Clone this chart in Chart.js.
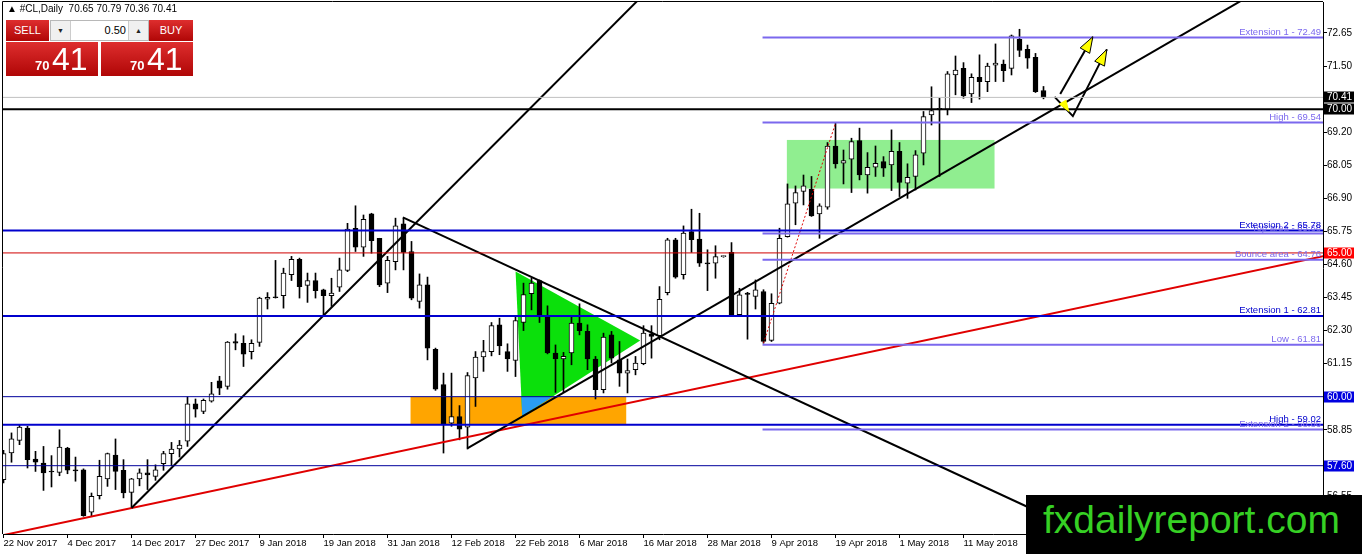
<!DOCTYPE html>
<html>
<head>
<meta charset="utf-8">
<script src="https://cdn.jsdelivr.net/npm/chart.js@4.4.1/dist/chart.umd.min.js"></script>
<style>
  body { margin: 0; background: #fff; font-family: 'Liberation Sans', Arial, sans-serif; }
  #wrap { position: relative; width: 1362px; height: 554px; overflow: hidden; }
  canvas { position: absolute; left: 0; top: 0; }
  #hdr { position: absolute; left: 7px; top: 3px; font-size: 10px; line-height: 12px; color: #000; white-space: pre; }
  .red { position: absolute; background: linear-gradient(#de2e2e, #b00606); color: #fff; }
  .btn { font-size: 11px; text-align: center; line-height: 21px; }
  #sell { left: 6px; top: 20px; width: 43px; height: 21px; }
  #buy { left: 149px; top: 20px; width: 44px; height: 21px; }
  #spin { position: absolute; left: 50px; top: 20px; width: 97px; height: 19px; border: 1px solid #b8b8b8; background: #fff; font-size: 11px; }
  #spin .b { position: absolute; top: 0; width: 19px; height: 19px; background: #f0f0f0; font-size: 7px; line-height: 19px; text-align: center; color: #222; }
  #spin .v { position: absolute; left: 20px; width: 55px; text-align: right; line-height: 19px; }
  .big { top: 42px; width: 92px; height: 34px; }
  #bigL { left: 6px; }
  #bigR { left: 101px; }
  .sm { position: absolute; left: 29px; top: 17px; font-size: 13px; line-height: 13px; font-weight: bold; }
  .lg { position: absolute; left: 46px; top: 1px; font-size: 32px; line-height: 32px; }
  #wm { position: absolute; left: 1026px; top: 495px; width: 336px; height: 59px; background: #000; color: #36d024;
        font-size: 39px; line-height: 39px; padding: 5px 0 0 17px; box-sizing: border-box; white-space: nowrap; }
</style>
</head>
<body>
<div id="wrap">
  <canvas id="c" width="1362" height="554"></canvas>
  <div id="hdr">▲ #CL,Daily  70.65 70.79 70.36 70.41</div>
  <div id="sell" class="red btn">SELL</div>
  <div id="spin"><div class="b" style="left:0;border-right:1px solid #ccc">▼</div><div class="v">0.50</div><div class="b" style="left:77px;border-left:1px solid #ccc">▲</div></div>
  <div id="buy" class="red btn">BUY</div>
  <div id="bigL" class="red big"><span class="sm">70</span><span class="lg">41</span></div>
  <div id="bigR" class="red big"><span class="sm">70</span><span class="lg">41</span></div>
  <div id="wm">fxdailyreport.com</div>
</div>
<script>
// daily bars, 22 Nov 2017 .. 25 May 2018 (one per trading day)
const opens = [
  57.11,58.04,58.48,58.91,57.83,57.69,57.40,57.37,58.21,57.44,57.46,55.98,56.56,57.14,57.97,57.44,
  56.67,57.14,57.35,57.23,57.67,58.02,58.18,58.45,59.75,59.49,59.84,60.55,60.36,61.92,61.86,61.57,
  61.89,63.39,63.46,63.51,64.24,64.78,63.87,64.04,63.72,63.51,63.81,64.39,65.86,65.20,66.36,65.51,
  63.95,64.70,66.01,65.05,63.31,63.89,61.65,60.42,59.08,59.31,58.94,60.65,61.38,61.57,62.50,61.57,
  61.26,62.58,63.58,64.04,62.79,61.52,61.31,61.52,62.56,62.27,61.31,60.24,62.15,61.28,60.82,60.94,
  61.15,62.19,62.12,63.62,65.46,64.24,65.74,65.48,64.64,64.64,64.87,65.02,62.85,63.60,63.49,63.66,
  61.96,63.25,65.57,66.73,67.14,67.22,66.36,66.59,68.72,68.12,68.26,68.91,67.71,67.98,68.18,68.06,
  68.53,67.43,67.66,68.47,69.80,69.97,69.99,71.19,71.42,70.53,71.11,70.96,71.53,71.57,71.42,72.43,
  72.08,71.80,70.65
];
const highs = [
  58.13,58.74,59.03,58.97,58.10,58.27,57.95,58.85,58.24,57.90,57.49,56.65,57.79,58.04,58.53,57.81,
  57.16,57.49,57.81,57.63,58.10,58.41,58.48,59.99,59.92,59.92,60.50,60.71,61.92,62.19,62.12,61.98,
  63.46,63.62,64.74,64.47,64.88,64.82,64.30,64.30,63.74,64.12,64.82,66.03,66.64,66.32,66.38,65.51,
  64.88,66.21,66.21,65.40,64.27,64.16,61.69,60.82,60.82,59.69,60.84,61.57,61.96,62.58,62.73,61.84,
  62.79,63.95,64.12,64.06,63.16,61.80,61.54,62.79,63.23,62.50,61.40,62.21,62.27,61.92,61.31,61.40,
  62.47,62.47,63.83,65.51,65.51,65.94,66.52,66.38,65.11,65.25,64.90,65.36,63.77,63.63,64.06,63.72,
  63.58,65.86,67.40,67.33,67.71,67.66,66.71,68.84,69.51,68.58,68.99,69.34,68.49,68.72,68.35,69.28,
  68.84,68.10,68.56,69.92,70.78,70.38,71.31,71.85,71.62,71.23,71.89,71.60,72.27,71.71,72.58,72.78,
  72.23,71.94,70.79
];
const lows = [
  57.00,57.72,58.33,57.52,57.40,56.74,56.86,57.25,57.32,57.06,55.84,55.86,56.44,56.88,56.77,56.48,
  56.13,56.90,56.77,57.09,57.44,57.60,57.90,58.27,59.29,59.41,59.81,60.07,60.26,61.63,61.05,61.31,
  61.75,63.05,63.43,63.08,64.04,63.43,63.28,63.43,62.81,63.14,63.66,64.35,65.05,64.88,64.99,63.83,
  63.62,64.41,64.41,63.37,63.08,61.28,60.22,58.04,58.97,58.50,58.18,59.66,60.88,61.42,61.46,60.88,
  60.70,62.30,63.02,62.58,61.49,60.15,60.15,61.11,62.15,60.94,59.92,60.13,61.17,60.36,60.13,60.76,
  61.11,61.34,61.98,63.54,64.12,64.09,65.02,64.53,63.69,64.12,64.85,62.81,62.81,62.00,63.05,61.86,
  61.92,63.23,65.55,65.98,66.67,66.27,65.51,66.52,67.95,67.40,67.10,67.54,67.08,67.66,67.66,67.17,
  66.96,66.90,67.19,68.06,69.45,67.66,69.80,70.50,70.38,70.23,70.35,70.61,70.96,70.96,71.19,71.83,
  71.42,70.58,70.36
];
const closes = [
  58.02,58.53,58.94,57.81,57.72,57.35,57.38,58.25,57.44,57.42,55.86,56.53,57.23,58.02,57.40,56.65,
  57.14,57.35,57.28,57.46,58.02,58.18,58.32,59.75,59.57,59.87,60.10,60.30,61.90,61.86,61.48,61.86,
  63.43,63.46,63.44,64.30,64.78,63.83,64.04,63.69,63.51,63.60,64.41,65.83,65.20,66.17,65.43,63.89,
  64.74,65.94,65.02,63.43,63.89,61.69,60.26,59.02,59.31,58.87,60.73,61.38,61.57,62.47,61.77,61.31,
  62.65,63.55,63.95,62.85,61.52,61.31,61.40,62.56,62.30,61.31,60.24,62.07,61.34,60.82,60.91,61.17,
  62.21,62.10,63.39,65.46,64.16,65.69,65.46,64.64,64.62,64.87,64.87,62.85,63.54,63.56,63.72,61.92,
  63.25,65.51,66.71,67.10,67.33,66.29,66.64,68.72,68.10,68.21,68.87,67.71,67.98,68.12,67.95,68.53,
  67.45,67.63,68.41,69.74,69.95,70.03,71.23,71.36,70.46,71.11,70.96,71.50,71.60,71.34,72.55,72.04,
  71.77,70.61,70.41
];

// time axis
const dateTickPos = [0, 8, 16, 24, 32, 40, 48, 56, 64, 72, 80, 88, 96, 104, 112, 120];
const dateLabels = ['22 Nov 2017','4 Dec 2017','14 Dec 2017','27 Dec 2017','9 Jan 2018','19 Jan 2018',
  '31 Jan 2018','12 Feb 2018','22 Feb 2018','6 Mar 2018','16 Mar 2018','28 Mar 2018','9 Apr 2018',
  '19 Apr 2018','1 May 2018','11 May 2018'];
const priceTicks = [72.65, 71.50, 69.20, 68.05, 66.90, 65.75, 64.60, 63.45, 62.30, 61.15, 58.85, 56.55];

// horizontal levels across the whole chart
const levelPrices = [70.41, 70.00, 65.78, 65.00, 62.81, 60.00, 59.02, 57.60];
const levelColors = ['#c0c0c0', '#000000', '#0000cd', '#d00000', '#0000cd', '#00009c', '#0000cd', '#00009c'];
const levelWidths = [1, 2, 2, 1, 2, 1, 2, 1];
// fibo levels starting at the 6 Apr low
const fiboStart = 94.88;
const fiboPrices = [72.49, 69.54, 65.68, 64.76, 61.81, 58.86];
// level captions
const capPrices = [72.49, 69.54, 65.68, 65.78, 64.76, 62.81, 61.81, 58.86, 59.02];
const capTexts = ['Extension 1 - 72.49', 'High - 69.54', 'Top area - 65.68', 'Extension 2 - 65.78',
  'Bounce area - 64.76', 'Extension 1 - 62.81', 'Low - 61.81', 'Extension 2 - 58.86', 'High - 59.02'];
const capKinds = ['f', 'f', 'f', 'b', 'f', 'b', 'f', 'f', 'b'];
// price tags on the axis
const tagPrices = [70.41, 70.00, 65.00, 60.00, 57.60];
const tagColors = ['#000000', '#000000', '#ff0000', '#0000e0', '#0000e0'];

// trend lines [bar, price]
const trendUp1 = [[16, 56.13], [82, 74.54]];
const trendDown = [[49.92, 66.24], [131, 55.78]];
const trendUp2 = [[57.97, 58.20], [156, 73.98]];
const redTrend = [[-0.1, 55.18], [165, 64.89]];
const fiboDiag = [[95, 61.86], [104, 69.51]];
const arrowA = [[132.09, 70.53], [136.17, 72.52]];
const arrowB = [[131.38, 70.43], [133.67, 69.76], [137.92, 72.08]];
const yellowMark = [[131.88, 70.18], [132.84, 70.34], [133.25, 69.89]];

// zones [from bar, to bar, top price, bottom price]
const orangeZone = [50.88, 77.84, 60.00, 59.02];
const rangeZone = [97.92, 123.88, 68.93, 67.24];
const wedge = [[64.01, 64.35], [79.59, 61.95], [64.84, 59.33]];

const FIB = 'rgb(123,104,238)';
const BLUE = '#0000cd';
Chart.defaults.font.family = "'Liberation Sans', Arial, sans-serif";
Chart.defaults.color = '#000';

const wicks = opens.map((o, i) => ({ x: i, y: [lows[i], highs[i]] }));
const bodies = opens.map((o, i) => {
  const lo = Math.min(o, closes[i]);
  const hi = Math.max(Math.max(o, closes[i]), lo + 0.035);
  return { x: i, y: [lo, hi] };
});
const bodyFill = opens.map((o, i) => closes[i] >= o ? '#ffffff' : '#000000');

const xMin = -0.0625, xMax = xMin + 165;
const pts = arr => arr.map(p => ({ x: p[0], y: p[1] }));
const lineDs = (data, color, width, dash) => ({
  type: 'line', data, borderColor: color, borderWidth: width, borderDash: dash || [],
  pointRadius: 0, fill: false, tension: 0, order: 1
});

const datasets = [
  { type: 'bar', data: wicks, backgroundColor: '#000', barThickness: 1, grouped: false, order: 20 },
  { type: 'bar', data: bodies, backgroundColor: bodyFill, borderColor: '#000', borderWidth: 1,
    borderSkipped: false, barThickness: 5, grouped: false, order: 10 }
];
levelPrices.forEach((p, k) => datasets.push(lineDs([{ x: xMin, y: p }, { x: xMax, y: p }], levelColors[k], levelWidths[k])));
fiboPrices.forEach(p => datasets.push(lineDs([{ x: fiboStart, y: p }, { x: xMax, y: p }], FIB, 2)));
datasets.push(lineDs(pts(trendUp1), '#000', 2));
datasets.push(lineDs(pts(trendDown), '#000', 2));
datasets.push(lineDs(pts(trendUp2), '#000', 2));
datasets.push(lineDs(pts(redTrend), '#e00000', 2));
datasets.push(lineDs(pts(fiboDiag), '#e00000', 1, [2, 2]));
datasets.push(lineDs(pts(arrowA), '#000', 2));
datasets.push(lineDs(pts(arrowB), '#000', 2));

const annot = {
  id: 'annot',
  beforeDatasetsDraw(chart) {
    const { ctx, chartArea: a, scales: { x, y } } = chart;
    const box = z => {
      const x0 = x.getPixelForValue(z[0]), x1 = x.getPixelForValue(z[1]);
      const y0 = y.getPixelForValue(z[2]), y1 = y.getPixelForValue(z[3]);
      return [x0, y0, x1 - x0, y1 - y0];
    };
    const tri = () => {
      ctx.beginPath();
      wedge.forEach((p, k) => {
        const px = x.getPixelForValue(p[0]), py = y.getPixelForValue(p[1]);
        k ? ctx.lineTo(px, py) : ctx.moveTo(px, py);
      });
      ctx.closePath();
    };
    ctx.save();
    ctx.beginPath(); ctx.rect(a.left, a.top, a.width, a.height); ctx.clip();
    ctx.fillStyle = '#90ee90'; ctx.fillRect(...box(rangeZone));
    ctx.fillStyle = '#ffa500'; ctx.fillRect(...box(orangeZone));
    tri(); ctx.fillStyle = '#0be00b'; ctx.fill();
    ctx.save();
    ctx.beginPath(); ctx.rect(...box(orangeZone)); ctx.clip();
    tri(); ctx.fillStyle = '#2a9df4'; ctx.fill();
    ctx.restore();
    ctx.restore();
  },
  afterDatasetsDraw(chart) {
    const { ctx, chartArea: a, scales: { x, y } } = chart;
    const px = p => [x.getPixelForValue(p[0]), y.getPixelForValue(p[1])];
    ctx.save();
    // arrow heads
    [arrowA, arrowB].forEach(arr => {
      const [tx, ty] = px(arr[arr.length - 1]);
      const [sx, sy] = px(arr[arr.length - 2]);
      const len = Math.hypot(tx - sx, ty - sy), ux = (tx - sx) / len, uy = (ty - sy) / len;
      const bx = tx - ux * 16, by = ty - uy * 16;
      ctx.beginPath();
      ctx.moveTo(tx, ty);
      ctx.lineTo(bx - uy * 5.5, by + ux * 5.5);
      ctx.lineTo(bx + uy * 5.5, by - ux * 5.5);
      ctx.closePath();
      ctx.fillStyle = '#ffff00'; ctx.fill();
      ctx.strokeStyle = '#000'; ctx.lineWidth = 1; ctx.stroke();
    });
    ctx.beginPath();
    yellowMark.forEach((p, k) => { const [qx, qy] = px(p); k ? ctx.lineTo(qx, qy) : ctx.moveTo(qx, qy); });
    ctx.closePath();
    ctx.fillStyle = '#ffff00'; ctx.fill();
    // captions
    ctx.font = "9.5px 'Liberation Sans', Arial, sans-serif";
    ctx.textAlign = 'right'; ctx.textBaseline = 'alphabetic';
    capPrices.forEach((p, k) => {
      ctx.fillStyle = capKinds[k] === 'f' ? FIB : BLUE;
      ctx.fillText(capTexts[k], a.right - 2, y.getPixelForValue(p) - 2.5);
    });
    ctx.restore();
  },
  afterDraw(chart) {
    const { ctx, chartArea: a, scales: { y } } = chart;
    ctx.save();
    ctx.strokeStyle = '#000'; ctx.lineWidth = 1;
    ctx.beginPath();
    ctx.moveTo(a.left - 0.5, a.bottom); ctx.lineTo(a.left - 0.5, a.top - 0.5); ctx.lineTo(a.right, a.top - 0.5);
    ctx.stroke();
    ctx.font = "10px 'Liberation Sans', Arial, sans-serif";
    ctx.textAlign = 'left'; ctx.textBaseline = 'middle';
    tagPrices.forEach((p, k) => {
      const yy = Math.round(y.getPixelForValue(p));
      ctx.fillStyle = tagColors[k];
      ctx.fillRect(a.right + 1, yy - 5.5, 30, 11);
      ctx.fillStyle = '#fff';
      ctx.fillText(p.toFixed(2), a.right + 4, yy + 0.5);
    });
    ctx.restore();
  }
};

new Chart(document.getElementById('c'), {
  type: 'bar',
  data: { datasets },
  plugins: [annot],
  options: {
    responsive: false,
    animation: false,
    events: [],
    layout: { padding: { left: 3, top: 2, right: 0, bottom: 0 } },
    plugins: { legend: { display: false }, tooltip: { enabled: false } },
    scales: {
      x: {
        type: 'linear', min: xMin, max: xMax, offset: false,
        grid: { drawOnChartArea: false, offset: false, color: '#000', tickLength: 4 },
        border: { display: true, color: '#000' },
        afterBuildTicks: s => { s.ticks = dateTickPos.map(v => ({ value: v })); },
        afterFit: s => { s.height = 20; s.paddingLeft = 0; s.paddingRight = 0; },
        ticks: { autoSkip: false, maxRotation: 0, minRotation: 0, align: 'start', padding: 0,
                 font: { size: 9.5 }, color: '#000', callback: (v, i) => dateLabels[i] }
      },
      y: {
        type: 'linear', position: 'right', min: 55.224, max: 73.728,
        grid: { drawOnChartArea: false, color: '#000', tickLength: 4 },
        border: { display: true, color: '#000' },
        afterBuildTicks: s => { s.ticks = priceTicks.map(v => ({ value: v })); },
        afterFit: s => { s.width = 39; s.paddingTop = 0; s.paddingBottom = 0; },
        ticks: { padding: 0, font: { size: 10 }, color: '#000', callback: v => v.toFixed(2) }
      }
    }
  }
});
</script>
</body>
</html>
